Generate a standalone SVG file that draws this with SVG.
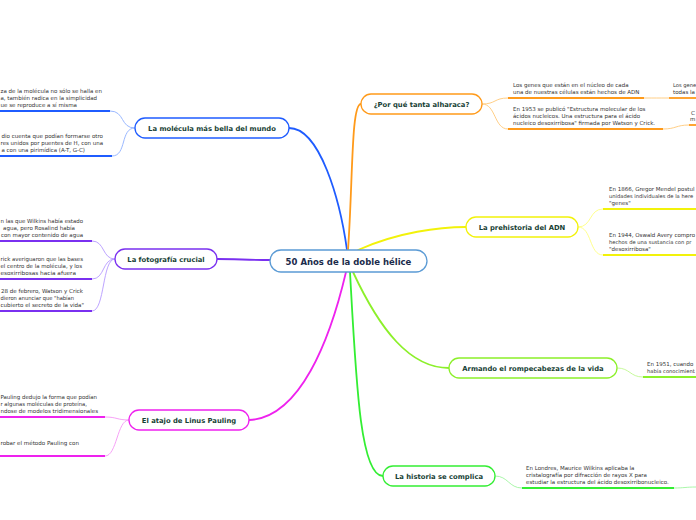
<svg xmlns="http://www.w3.org/2000/svg" width="696" height="520" viewBox="0 0 696 520">
<style>
.bg{fill:#ffffff}
.node{fill:#ffffff;stroke-width:1.3}
.nt{font-family:"DejaVu Sans",Verdana,sans-serif;font-weight:bold;font-size:6.8px;fill:#173f35;text-anchor:middle}
.ct{font-family:"DejaVu Sans",Verdana,sans-serif;font-weight:bold;font-size:8.5px;fill:#1b2b4b;text-anchor:middle}
.t{font-family:"DejaVu Sans",Verdana,sans-serif;font-size:5.5px;fill:#333333}
.ts{font-family:"DejaVu Sans",Verdana,sans-serif;font-size:5.2px;fill:#333333}
.main{fill:none;stroke-width:1.8;stroke-linecap:round}
.sub{fill:none;stroke-width:0.9}
.ul{stroke-width:1.8;fill:none}
</style>
<rect class="bg" x="0" y="0" width="696" height="520"/>
<g id="connectors">
  <path class="main" stroke="#1f5cff" d="M347,250 C340,200 320,128 289,128"/>
  <path class="main" stroke="#ff9a1a" d="M348,250 C353,180 351,104 361,104"/>
  <path class="main" stroke="#f2f20a" d="M358,250 C398,232 440,227 466,227"/>
  <path class="main" stroke="#7a30f0" d="M270,260 C250,260 235,259 217,259"/>
  <path class="main" stroke="#ee22ee" d="M346,272 C330,340 300,418 249,420"/>
  <path class="main" stroke="#33ee33" d="M350,272 C356,380 360,476 383,476"/>
  <path class="main" stroke="#8cf02a" d="M353,272 C380,330 410,368 449,368"/>
  <path class="sub" stroke="#8fb0ff" d="M135,128 C120,128 125,111 110,111"/>
  <path class="sub" stroke="#8fb0ff" d="M135,128 C120,128 127,156 112,156"/>
  <path class="sub" stroke="#ffc878" d="M482,104 C496,104 494,98 508,98"/>
  <path class="sub" stroke="#ffc878" d="M482,104 C496,104 494,129 508,129"/>
  <path class="sub" stroke="#ffc878" d="M644,98 C656,98 657,98 669,98"/>
  <path class="sub" stroke="#ffc878" d="M663,129 C676,129 676,125 689,125"/>
  <path class="sub" stroke="#ffff80" d="M578,227 C592,227 589,209 603,209"/>
  <path class="sub" stroke="#ffff80" d="M578,227 C592,227 589,255 603,255"/>
  <path class="sub" stroke="#b59aff" d="M115,259 C102,259 105,241 92,241"/>
  <path class="sub" stroke="#b59aff" d="M115,259 C102,259 105,279 92,279"/>
  <path class="sub" stroke="#b59aff" d="M115,259 C102,259 105,311 92,311"/>
  <path class="sub" stroke="#f596f5" d="M129,420 C117,420 117,417 105,417"/>
  <path class="sub" stroke="#f596f5" d="M129,420 C117,420 117,456 105,456"/>
  <path class="sub" stroke="#c0f890" d="M617,368 C630,368 630,377 643,377"/>
  <path class="sub" stroke="#9ff59f" d="M495,476 C508,476 509,488 522,488"/>
  <path class="sub" stroke="#9ff59f" d="M674,488 C684,488 686,487 696,487"/>
</g>
<g id="center">
  <rect class="node" stroke="#5b9bd5" x="270" y="250" width="157" height="22" rx="11"/>
  <text class="ct" x="348.5" y="265">50 Años de la doble hélice</text>
</g>
<g id="n-molecula">
  <rect class="node" stroke="#1f5cff" x="135" y="118" width="154" height="20" rx="10"/>
  <text class="nt" x="212" y="131">La molécula más bella del mundo</text>
</g>
<g id="n-alharaca">
  <rect class="node" stroke="#ff9a1a" x="361" y="94" width="121" height="20" rx="10"/>
  <text class="nt" x="421.5" y="107">¿Por qué tanta alharaca?</text>
</g>
<g id="n-prehistoria">
  <rect class="node" stroke="#f2f20a" x="466" y="217" width="112" height="20" rx="10"/>
  <text class="nt" x="522" y="230">La prehistoria del ADN</text>
</g>
<g id="n-fotografia">
  <rect class="node" stroke="#7a30f0" x="115" y="249" width="102" height="20" rx="10"/>
  <text class="nt" x="166" y="262">La fotografía crucial</text>
</g>
<g id="n-pauling">
  <rect class="node" stroke="#ee22ee" x="129" y="410" width="120" height="20" rx="10"/>
  <text class="nt" x="189" y="423">El atajo de Linus Pauling</text>
</g>
<g id="n-rompecabezas">
  <rect class="node" stroke="#8cf02a" x="449" y="358" width="168" height="20" rx="10"/>
  <text class="nt" x="533" y="371">Armando el rompecabezas de la vida</text>
</g>
<g id="n-historia">
  <rect class="node" stroke="#33ee33" x="383" y="466" width="112" height="20" rx="10"/>
  <text class="nt" x="439" y="479">La historia se complica</text>
</g>
<g id="c-blue-1">
  <text class="t" x="0.5" y="93" textLength="101.5" lengthAdjust="spacingAndGlyphs">za de la molécula no sólo se halla en</text>
  <text class="t" x="0.5" y="100" textLength="96.5" lengthAdjust="spacingAndGlyphs">a, también radica en la simplicidad</text>
  <text class="t" x="0.5" y="107" textLength="76.5" lengthAdjust="spacingAndGlyphs">ue se reproduce a sí misma</text>
  <line class="ul" stroke="#1f5cff" x1="0" y1="111" x2="110" y2="111"/>
</g>
<g id="c-blue-2">
  <text class="t" x="1.5" y="138" textLength="101.5" lengthAdjust="spacingAndGlyphs">dio cuenta que podían formarse otro</text>
  <text class="t" x="0.5" y="145" textLength="102.5" lengthAdjust="spacingAndGlyphs">res unidos por puentes de H, con una</text>
  <text class="t" x="1.5" y="152" textLength="83.5" lengthAdjust="spacingAndGlyphs">a con una pirimídica (A-T, G-C)</text>
  <line class="ul" stroke="#1f5cff" x1="0" y1="156" x2="112" y2="156"/>
</g>
<g id="c-orange-1">
  <text class="t" x="513" y="87">Los genes que están en el núcleo de cada</text>
  <text class="t" x="513" y="94">una de nuestras células están hechos de ADN</text>
  <line class="ul" stroke="#ff9a1a" x1="508" y1="98" x2="644" y2="98"/>
</g>
<g id="c-orange-2">
  <text class="t" x="513" y="111">En 1953 se publicó "Estructura molecular de los</text>
  <text class="t" x="513" y="118">ácidos nucleicos. Una estructura para el ácido</text>
  <text class="t" x="513" y="125">nucleico desoxirribosa" firmada por Watson y Crick.</text>
  <line class="ul" stroke="#ff9a1a" x1="508" y1="129" x2="663" y2="129"/>
</g>
<g id="c-orange-3">
  <text class="ts" x="673" y="87">Los gene</text>
  <text class="t" x="673" y="94">todas la</text>
  <line class="ul" stroke="#ff9a1a" x1="669" y1="98" x2="696" y2="98"/>
</g>
<g id="c-orange-4">
  <text class="t" x="691" y="115">C</text>
  <text class="t" x="690" y="121">m</text>
  <line class="ul" stroke="#ff9a1a" x1="689" y1="125" x2="696" y2="125"/>
</g>
<g id="c-yellow-1">
  <text class="t" x="609" y="191">En 1866, Gregor Mendel postul</text>
  <text class="ts" x="609" y="198">unidades individuales de la here</text>
  <text class="t" x="609" y="205">"genes"</text>
  <line class="ul" stroke="#f2f20a" x1="603" y1="209" x2="696" y2="209"/>
</g>
<g id="c-yellow-2">
  <text class="t" x="609" y="237">En 1944, Oswald Avery compro</text>
  <text class="ts" x="609" y="244">hechos de una sustancia con pr</text>
  <text class="t" x="609" y="251">"desoxirribosa"</text>
  <line class="ul" stroke="#f2f20a" x1="603" y1="255" x2="696" y2="255"/>
</g>
<g id="c-purple-1">
  <text class="t" x="0.5" y="223" textLength="82.5" lengthAdjust="spacingAndGlyphs">n las que Wilkins había estado</text>
  <text class="t" x="3" y="230" textLength="72" lengthAdjust="spacingAndGlyphs">agua, pero Rosalind había</text>
  <text class="t" x="1" y="237" textLength="82" lengthAdjust="spacingAndGlyphs">con mayor contenido de agua</text>
  <line class="ul" stroke="#7a30f0" x1="0" y1="241" x2="92" y2="241"/>
</g>
<g id="c-purple-2">
  <text class="t" x="0.5" y="261" textLength="82.5" lengthAdjust="spacingAndGlyphs">rick averiguaron que las bases</text>
  <text class="t" x="0.5" y="268" textLength="81.5" lengthAdjust="spacingAndGlyphs">el centro de la molécula, y los</text>
  <text class="t" x="0.5" y="275" textLength="75.5" lengthAdjust="spacingAndGlyphs">esoxirribosas hacia afuera</text>
  <line class="ul" stroke="#7a30f0" x1="0" y1="279" x2="92" y2="279"/>
</g>
<g id="c-purple-3">
  <text class="t" x="1" y="293" textLength="82" lengthAdjust="spacingAndGlyphs">28 de febrero, Watson y Crick</text>
  <text class="t" x="0.5" y="300" textLength="73.5" lengthAdjust="spacingAndGlyphs">dieron anunciar que "habían</text>
  <text class="t" x="0.5" y="307" textLength="83.5" lengthAdjust="spacingAndGlyphs">cubierto el secreto de la vida"</text>
  <line class="ul" stroke="#7a30f0" x1="0" y1="311" x2="92" y2="311"/>
</g>
<g id="c-magenta-1">
  <text class="t" x="0.5" y="399" textLength="96.5" lengthAdjust="spacingAndGlyphs">Pauling dedujo la forma que podían</text>
  <text class="t" x="0.5" y="406" textLength="86.5" lengthAdjust="spacingAndGlyphs">r algunas moléculas de proteína,</text>
  <text class="t" x="0.5" y="413" textLength="97.5" lengthAdjust="spacingAndGlyphs">ndose de modelos tridimensionales</text>
  <line class="ul" stroke="#ee22ee" x1="0" y1="417" x2="105" y2="417"/>
</g>
<g id="c-magenta-2">
  <text class="t" x="0.5" y="445" textLength="78.5" lengthAdjust="spacingAndGlyphs">robar el método Pauling con</text>
  <line class="ul" stroke="#ee22ee" x1="0" y1="456" x2="105" y2="456"/>
</g>
<g id="c-lime-1">
  <text class="t" x="647" y="366">En 1951, cuando</text>
  <text class="ts" x="647" y="373">había conocimient</text>
  <line class="ul" stroke="#8cf02a" x1="643" y1="377" x2="696" y2="377"/>
</g>
<g id="c-green-1">
  <text class="t" x="526" y="470">En Londres, Maurice Wilkins aplicaba la</text>
  <text class="t" x="526" y="477">cristalografía por difracción de rayos X para</text>
  <text class="t" x="526" y="484">estudiar la estructura del ácido desoxirribonucleico.</text>
  <line class="ul" stroke="#33ee33" x1="522" y1="488" x2="674" y2="488"/>
</g>
</svg>
